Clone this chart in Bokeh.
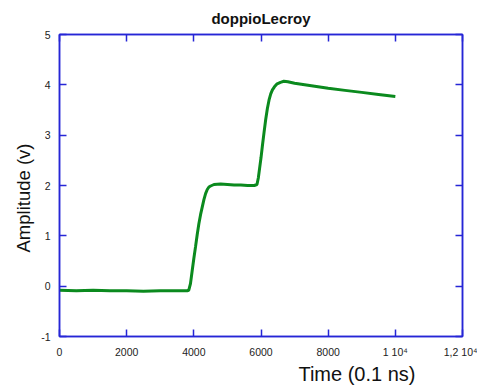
from bokeh.plotting import figure
from bokeh.models import LinearAxis, Range1d, FixedTicker, Title
from bokeh.embed import file_html
from bokeh.resources import INLINE

# data (time in 0.1 ns, amplitude in V)
time_pts = [0, 500, 1000, 1500, 2000, 2500, 3000, 3500, 3800, 3850, 3900, 3950,
            4000, 4050, 4100, 4150, 4200, 4250, 4300, 4350, 4400, 4450, 4500, 4600,
            4800, 5000, 5200, 5400, 5600, 5800, 5880, 5920, 5960, 6000, 6040, 6090,
            6140, 6190, 6240, 6290, 6340, 6400, 6480, 6580, 6680, 6800, 7000, 7500,
            8000, 8500, 9000, 9500, 10000]
amp_pts = [-0.08, -0.09, -0.08, -0.09, -0.09, -0.10, -0.09, -0.09, -0.09, -0.08, 0.05, 0.30,
           0.55, 0.78, 1.02, 1.24, 1.42, 1.57, 1.72, 1.84, 1.92, 1.97, 1.99, 2.02,
           2.03, 2.02, 2.01, 2.01, 2.00, 2.00, 2.02, 2.15, 2.35, 2.55, 2.78, 3.05,
           3.31, 3.53, 3.70, 3.82, 3.90, 3.96, 4.02, 4.05, 4.07, 4.06, 4.03, 3.98,
           3.93, 3.89, 3.85, 3.81, 3.77]

x_ticks = [0, 2000, 4000, 6000, 8000, 10000, 12000]
x_tick_labels = {0: "0", 2000: "2000", 4000: "4000", 6000: "6000", 8000: "8000",
                 10000: "1 10\u2074", 12000: "1,2 10\u2074"}
y_ticks = [-1, 0, 1, 2, 3, 4, 5]
y_tick_labels = {-1: "-1", 0: "0", 1: "1", 2: "2", 3: "3", 4: "4", 5: "5"}

title_text = "doppioLecroy"
x_label = "Time (0.1 ns)"
y_label = "Amplitude (v)"

FONT = "Liberation Sans"
BLUE = "#2626d6"

p = figure(width=477, height=386, output_backend="svg", toolbar_location=None,
           x_range=Range1d(0, 12000), y_range=Range1d(-1, 5),
           min_border_left=59, min_border_right=15, min_border_top=34, min_border_bottom=50)
p.xgrid.visible = False
p.ygrid.visible = False
p.outline_line_color = BLUE
p.outline_line_width = 1.5

p.title.text = title_text
p.title.align = "center"
p.title.text_font = FONT
p.title.text_font_size = "15px"
p.title.text_font_style = "bold"
p.title.text_color = "#111111"
p.title.standoff = 15

p.line(time_pts, amp_pts, line_color="#0b8a1e", line_width=3)

def style(ax, ticks, show_labels):
    ax.ticker = FixedTicker(ticks=ticks)
    ax.axis_line_color = BLUE
    ax.axis_line_width = 1.5
    ax.major_tick_line_color = BLUE
    ax.major_tick_line_width = 1.5
    ax.major_tick_in = 7
    ax.major_tick_out = 0
    ax.minor_tick_in = 0
    ax.minor_tick_out = 0
    ax.major_label_text_font = FONT
    ax.major_label_text_font_size = "10.5px"
    ax.major_label_text_color = "#222222"
    ax.major_label_standoff = 9 if show_labels else 0
    if not show_labels:
        ax.major_label_overrides = {t: "" for t in ticks}

style(p.xaxis[0], x_ticks, True)
p.xaxis[0].major_label_overrides = x_tick_labels
style(p.yaxis[0], y_ticks, True)
p.yaxis[0].major_label_overrides = y_tick_labels

top = LinearAxis()
style(top, x_ticks, False)
p.add_layout(top, "above")
right = LinearAxis()
style(right, y_ticks, False)
p.add_layout(right, "right")

# axis titles
p.add_layout(Title(text=x_label, align="right", offset=47, text_font=FONT,
                   text_font_size="20px", text_font_style="normal",
                   text_color="#111111", standoff=0), "below")
p.add_layout(Title(text=y_label, align="left", offset=84, text_font=FONT,
                   text_font_size="18.5px", text_font_style="normal",
                   text_color="#111111", standoff=9), "left")

open("out.html", "w").write(file_html(p, INLINE))
